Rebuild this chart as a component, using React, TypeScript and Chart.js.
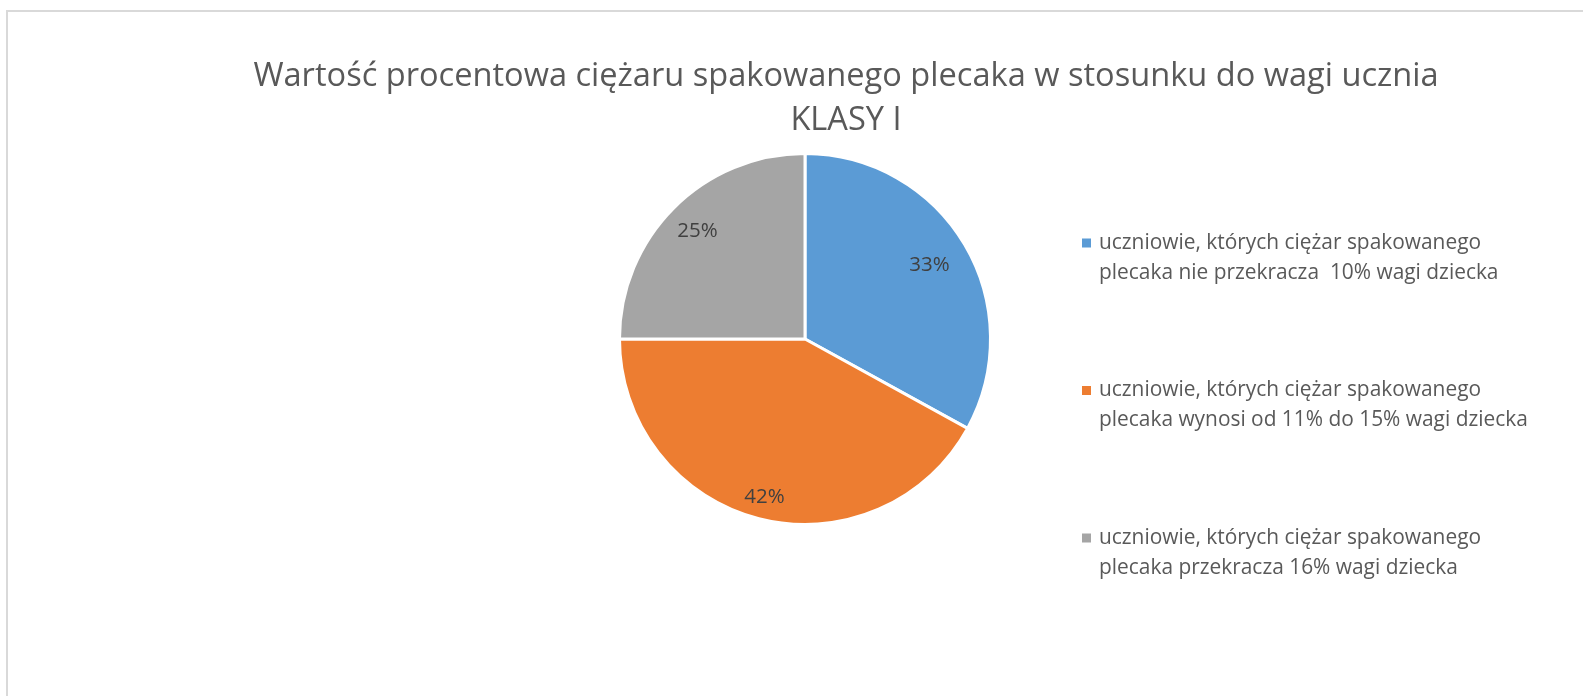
import React, { useEffect, useRef } from "react";
import { Chart, registerables } from "chart.js";

Chart.register(...registerables);

// ---- data ----
const titleLines = [
  "Wartość procentowa ciężaru spakowanego plecaka w stosunku do wagi ucznia",
  "KLASY I",
];
const categories = [
  ["uczniowie, których ciężar spakowanego", "plecaka nie przekracza  10% wagi dziecka"],
  ["uczniowie, których ciężar spakowanego", "plecaka wynosi od 11% do 15% wagi dziecka"],
  ["uczniowie, których ciężar spakowanego", "plecaka przekracza 16% wagi dziecka"],
];
const values = [33, 42, 25];
const colors = ["#5B9BD5", "#ED7D31", "#A5A5A5"];

// ---- layout (canvas coords) ----
const CANVAS_W = 1700;
const CANVAS_H = 720;
const FONT = "'Open Sans', 'Noto Sans', sans-serif";
const TITLE_CX = 838;
const TITLE_Y = [65, 109];
const TITLE_SIZE = 32.6;
const LEGEND_BOX_X = 1074;
const LEGEND_TEXT_X = 1091;
const LEGEND_Y0 = 231;
const LEGEND_LINE_H = 29.7;
const LEGEND_ITEM_H = 147.5;
const LEGEND_BOX = 9;
const LEGEND_SIZE = 20.9;
const LABEL_RADIUS_RATIO = [0.78, 0.88, 0.82];
const LABEL_SIZE = 20.5;

const overlayPlugin = {
  id: "overlay",
  afterDraw(chart: any) {
    const ctx = chart.ctx as CanvasRenderingContext2D;
    ctx.save();
    // title
    ctx.fillStyle = "#595959";
    ctx.textAlign = "center";
    ctx.textBaseline = "middle";
    ctx.font = `${TITLE_SIZE}px ${FONT}`;
    titleLines.forEach((t, i) => ctx.fillText(t, TITLE_CX, TITLE_Y[i]));

    // legend
    const ds = chart.data.datasets[0];
    ctx.textAlign = "left";
    ctx.font = `${LEGEND_SIZE}px ${FONT}`;
    (chart.data.labels as string[][]).forEach((lines, i) => {
      const y = LEGEND_Y0 + i * LEGEND_ITEM_H;
      ctx.fillStyle = ds.backgroundColor[i];
      ctx.fillRect(LEGEND_BOX_X, y - LEGEND_BOX / 2, LEGEND_BOX, LEGEND_BOX);
      ctx.fillStyle = "#595959";
      lines.forEach((l, j) => ctx.fillText(l, LEGEND_TEXT_X, y + j * LEGEND_LINE_H));
    });

    // data labels
    const meta = chart.getDatasetMeta(0);
    const total = (ds.data as number[]).reduce((a, b) => a + b, 0);
    ctx.textAlign = "center";
    ctx.fillStyle = "#404040";
    ctx.font = `${LABEL_SIZE}px ${FONT}`;
    meta.data.forEach((arc: any, i: number) => {
      const { x, y, startAngle, endAngle, outerRadius } = arc.getProps(
        ["x", "y", "startAngle", "endAngle", "outerRadius"],
        true
      );
      const mid = (startAngle + endAngle) / 2;
      const r = outerRadius * LABEL_RADIUS_RATIO[i];
      const pct = Math.round(((ds.data[i] as number) / total) * 100) + "%";
      ctx.fillText(pct, x + Math.cos(mid) * r, y + Math.sin(mid) * r);
    });
    ctx.restore();
  },
};

export default function App() {
  const ref = useRef<HTMLCanvasElement | null>(null);
  useEffect(() => {
    if (!ref.current) return;
    const chart = new Chart(ref.current, {
      type: "pie",
      data: {
        labels: categories as any,
        datasets: [
          {
            data: values,
            backgroundColor: colors,
            borderColor: "#FFFFFF",
            borderWidth: 3,
          },
        ],
      },
      options: {
        responsive: false,
        animation: false,
        devicePixelRatio: 1,
        layout: {
          padding: { left: 610, top: 140, right: CANVAS_W - 984, bottom: CANVAS_H - 514 },
        },
        plugins: {
          legend: { display: false },
          title: { display: false },
          tooltip: { enabled: false },
        },
      },
      plugins: [overlayPlugin],
    });
    return () => chart.destroy();
  }, []);

  return (
    <div
      style={{
        position: "fixed",
        left: 0,
        top: 0,
        width: 1583,
        height: 696,
        overflow: "hidden",
        background: "#ffffff",
      }}
    >
      <div
        style={{
          position: "absolute",
          left: 6,
          top: 10,
          width: CANVAS_W + 4,
          height: CANVAS_H + 4,
          border: "2px solid #D9D9D9",
          boxSizing: "border-box",
          background: "#ffffff",
        }}
      >
        <canvas
          ref={ref}
          width={CANVAS_W}
          height={CANVAS_H}
          style={{ display: "block", width: CANVAS_W, height: CANVAS_H }}
        />
      </div>
    </div>
  );
}
